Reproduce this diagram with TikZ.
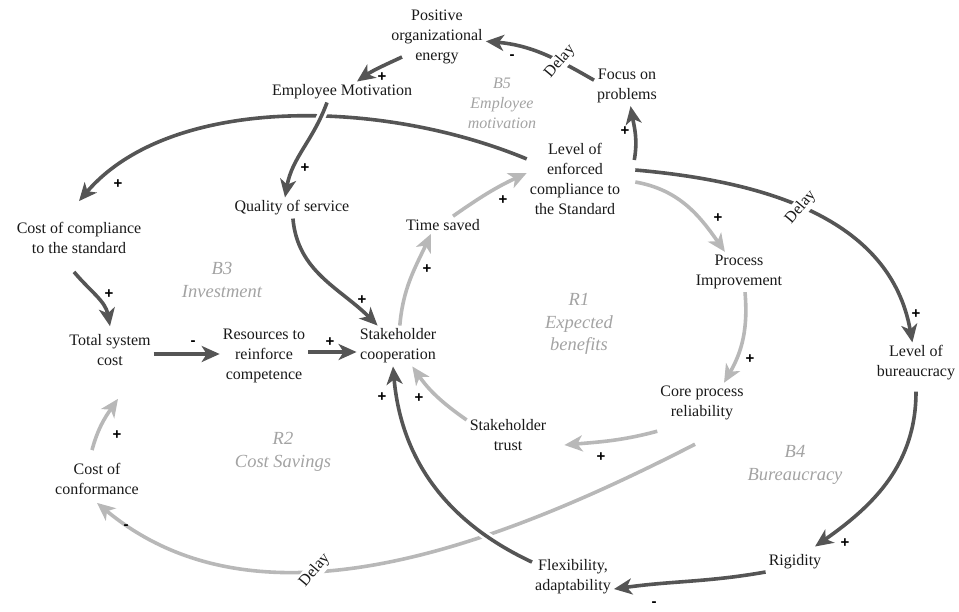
\documentclass[tikz,border=0pt]{standalone}
\usepackage{fontspec}
\setmainfont{Liberation Serif}
\setsansfont{Liberation Sans}
\usetikzlibrary{arrows.meta}

\definecolor{darkarrow}{HTML}{555555}
\definecolor{lightarrow}{HTML}{B8B8B8}
\definecolor{looptext}{HTML}{A3A3A3}

\tikzstyle{var} = [align=center, inner sep=3pt, text=black!90, font=\fontsize{16}{20}\selectfont]
\tikzstyle{looplabel} = [align=center, text=looptext, font=\itshape\fontsize{18.5}{22.5}\selectfont]
\tikzstyle{dark} = [draw=darkarrow, line width=3.6pt, -{Stealth[length=18pt,width=16pt,inset=5pt]}]
\tikzstyle{light} = [draw=lightarrow, line width=3.6pt, -{Stealth[length=18pt,width=16pt,inset=5pt]}]
\tikzstyle{over} = [preaction={draw=white, line width=9pt, arrows=-}]
\tikzstyle{sign} = [inner sep=0pt, font=\sffamily\bfseries\fontsize{15}{15}\selectfont]
\tikzstyle{delay} = [fill=white, inner sep=1.5pt, rotate=50, text=black!90, font=\fontsize{16}{16}\selectfont]

\begin{document}
\begin{tikzpicture}[x=1pt,y=-1pt]
	\useasboundingbox (0,0) rectangle (959,611);

	\node[var] (energy) at (437,37) {Positive\\organizational\\energy};
	\node[var] (emp) at (342,92) {Employee Motivation};
	\node[var] (focus) at (627,86) {Focus on\\problems};
	\node[var] (level) at (575,179) {Level of\\enforced\\compliance to\\the Standard};
	\node[var] (cost) at (79,238) {Cost of compliance\\to the standard};
	\node[var] (quality) at (292,208) {Quality of service};
	\node[var] (time) at (443,225) {Time saved};
	\node[var] (proc) at (739,272) {Process\\Improvement};
	\node[var] (total) at (110,350) {Total system\\cost};
	\node[var] (res) at (264,356) {Resources to\\reinforce\\competence};
	\node[var] (coop) at (398,346) {Stakeholder\\cooperation};
	\node[var] (bur) at (916,363) {Level of\\bureaucracy};
	\node[var] (core) at (702,403) {Core process\\reliability};
	\node[var] (trust) at (508,435) {Stakeholder\\trust};
	\node[var] (conf) at (97,479) {Cost of\\conformance};
	\node[var] (rig) at (795,562) {Rigidity};
	\node[var] (flex) at (573,577) {Flexibility,\\adaptability};

	\node[looplabel, font=\itshape\fontsize{16}{20}\selectfont] (b5) at (502,103) {B5\\Employee\\motivation};
	\node[looplabel] (b3) at (222,280) {B3\\Investment};
	\node[looplabel] (r1) at (579,324) {R1\\Expected\\benefits};
	\node[looplabel] (r2) at (283,452) {R2\\Cost Savings};
	\node[looplabel] (b4) at (795,465) {B4\\Bureaucracy};

	\draw[dark] (focus.170) to[out=150,in=-5] node[delay, pos=0.32] (d1) {Delay} (energy);
	\draw[dark] ([shift={(-35pt,-20pt)}]energy.center) to[out=205,in=35] (emp);
	\draw[dark] ([shift={(11pt,19pt)}]level.east) to[out=80,in=-80] (focus);
	\draw[dark] (level) .. controls (380,98) and (170,95) .. ([yshift=18pt]cost.north);
	\draw[dark, over] ([xshift=-15pt]emp.south) to[out=-110,in=80] ([xshift=-7pt]quality.north);
	\draw[dark] (quality) to[out=-85,in=135] (coop);
	\draw[dark] ([shift={(-5pt,-15pt)}]cost.south) to[out=-50,in=100] ([yshift=5pt]total.north);
	\draw[dark] ([yshift=-4pt]total.east) -- ([yshift=-4pt]total.east -| res.west);
	\draw[dark] ([yshift=-6pt]coop.west -| res.east) -- ([yshift=-6pt]coop.west);
	\draw[light] (coop) to[out=85,in=-115] ([xshift=-12pt]time.south);
	\draw[light] ([xshift=10pt]time.north) to[out=35,in=205] ([yshift=6pt]level.west);
	\draw[light] ([shift={(12pt,-3pt)}]level.east) to[out=-10,in=125] (proc);
	\draw[dark] ([shift={(12pt,9pt)}]level.east) to[out=-5,in=100] node[delay, pos=0.46] (d2) {Delay} (bur);
	\draw[light] ([xshift=6pt]proc.south) to[out=-85,in=60] ([xshift=22pt]core.north);
	\draw[light] ([yshift=-8pt]core.south west) to[out=195,in=5] ([shift={(15pt,-10pt)}]trust.east);
	\draw[light] (trust.160) to[out=145,in=-55] (coop);
	\draw[light] ([shift={(-7pt,-21pt)}]core.south) .. controls (470,560) and (250,630) .. node[delay, pos=0.59] (d3) {Delay} ([yshift=-5pt]conf.south);
	\draw[dark, over] (flex.160) to[out=155,in=-85] ([xshift=-5pt]coop.south);
	\draw[dark] ([yshift=-8pt]bur.south) to[out=-90,in=35] ([shift={(20pt,5pt)}]rig.north);
	\draw[dark] ([yshift=-10pt]rig.west) to[out=190,in=8] ([yshift=-12pt]flex.east);
	\draw[light] ([shift={(-5pt,10pt)}]conf.north) to[out=75,in=-125] ([shift={(8pt,-30pt)}]total.south);

	\node[sign] (s1) at (512,57) {-};
	\node[sign] (s2) at (382,77) {+};
	\node[sign] (s3) at (625,131) {+};
	\node[sign] (s4) at (118,184) {+};
	\node[sign] (s5) at (305,168) {+};
	\node[sign] (s6) at (362,300) {+};
	\node[sign] (s7) at (109,294) {+};
	\node[sign] (s8) at (193,343) {-};
	\node[sign] (s9) at (330,342) {+};
	\node[sign] (s10) at (427,269) {+};
	\node[sign] (s11) at (503,200) {+};
	\node[sign] (s12) at (718,218) {+};
	\node[sign] (s13) at (916,314) {+};
	\node[sign] (s14) at (750,359) {+};
	\node[sign] (s15) at (601,457) {+};
	\node[sign] (s16) at (419,398) {+};
	\node[sign] (s17) at (382,397) {+};
	\node[sign] (s18) at (126,527) {-};
	\node[sign] (s19) at (845,543) {+};
	\node[sign] (s20) at (654,604) {-};
	\node[sign] (s21) at (117,435) {+};
\end{tikzpicture}
\end{document}
